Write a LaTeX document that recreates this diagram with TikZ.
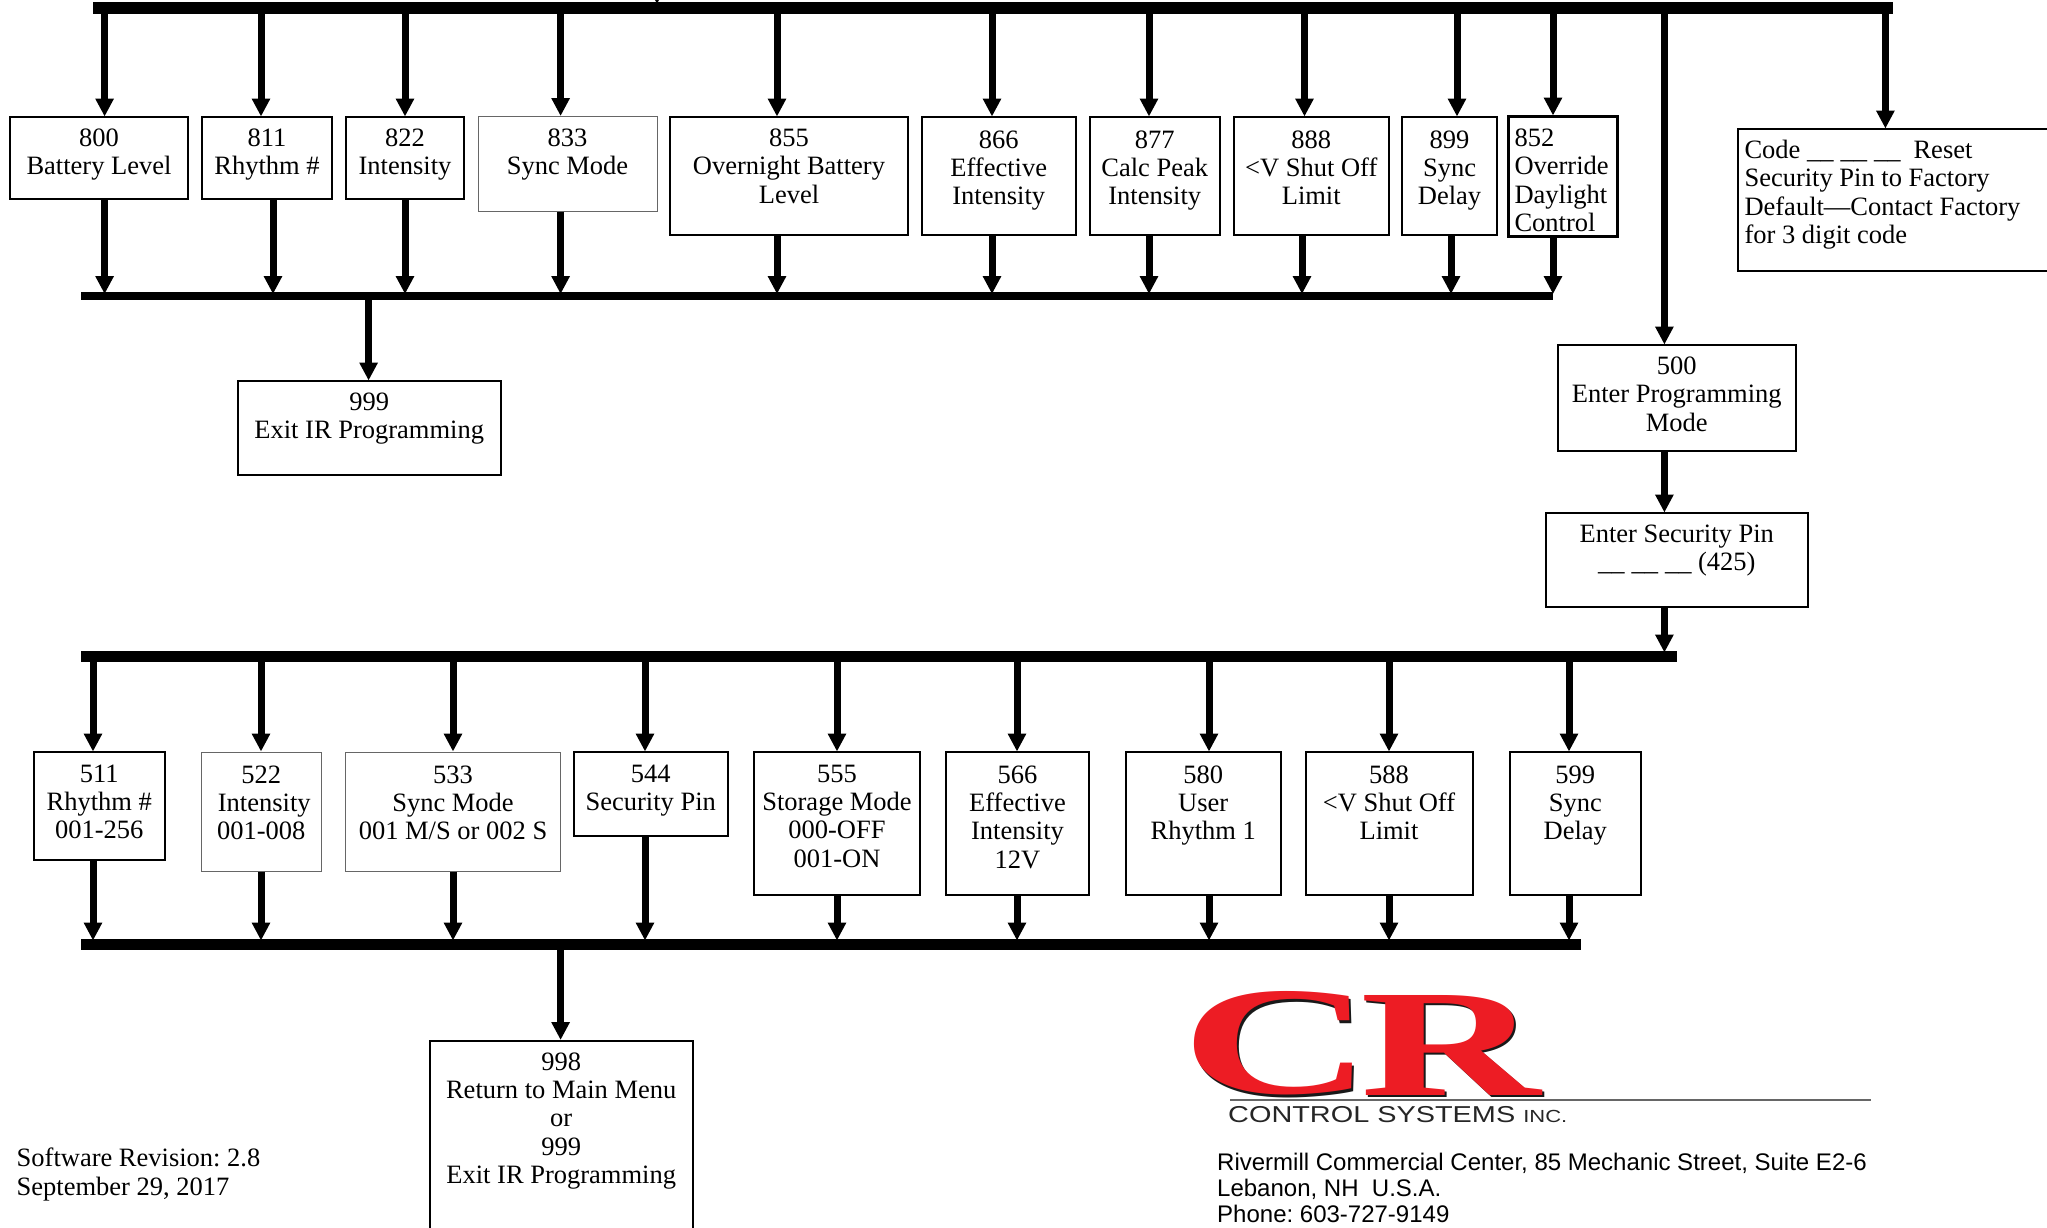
\documentclass[tikz,border=0pt]{standalone}
\usepackage{fontspec}
\usepackage{graphicx}
\setmainfont{Liberation Serif}
\newfontfamily\arialf{Liberation Sans}
\usetikzlibrary{arrows.meta,calc}
\definecolor{crred}{HTML}{ED1C24}
\frenchspacing
\tikzset{
  x=1pt,y=-1pt,
  flowbox/.style={draw=black,line width=2pt,inner sep=0pt,outer sep=0pt,fill=white},
  thinbox/.style={flowbox,draw=black!60,line width=1pt},
  heavybox/.style={flowbox,line width=3pt},
  bus/.style={fill=black,inner sep=0pt,outer sep=0pt},
  arr/.style={line width=7pt,-{Triangle[length=18pt,width=17.5pt]},shorten >=0.5pt},
  arrbus/.style={line width=7pt,-{Triangle[length=18pt,width=17.5pt]},shorten >=-2pt},
}
\newcommand{\txtsize}{\fontsize{26.5}{28.4}\selectfont}
\newcommand{\fbase}{29.5pt}
% \flowb[style]{name}{x1}{y1}{x2}{y2}{text}
\newcommand{\flowb}[7][flowbox]{%
  \pgfmathsetmacro{\bw}{#5-#3}\pgfmathsetmacro{\bh}{#6-#4}%
  \pgfmathsetmacro{\bx}{(#3+#5)/2}\pgfmathsetmacro{\by}{(#4+#6)/2}%
  \node[#1,minimum width=\bw pt,minimum height=\bh pt] (#2) at (\bx,\by)
    {\parbox[c][\bh pt][t]{\bw pt}{\txtsize\centering\rule{0pt}{\fbase}#7}};%
}
\newcommand{\busb}[5]{%
  \pgfmathsetmacro{\bw}{#4-#2}\pgfmathsetmacro{\bh}{#5-#3}%
  \pgfmathsetmacro{\bx}{(#2+#4)/2}\pgfmathsetmacro{\by}{(#3+#5)/2}%
  \node[bus,minimum width=\bw pt,minimum height=\bh pt] (#1) at (\bx,\by) {};%
}
\newcommand{\dashgap}{\_\_\hspace{7pt}\_\_\hspace{7pt}\_\_}
\begin{document}
\begin{tikzpicture}
\useasboundingbox (0,0) rectangle (2047,1227);
\fill[white] (0,0) rectangle (2047,1227);
% buses
\busb{busa}{93}{2}{1893}{14}
\busb{busb}{81}{292}{1553}{300}
\busb{busc}{81}{650.5}{1677}{661.5}
\busb{busd}{81}{938.5}{1581}{950}
% row 1
\flowb{b800}{10}{117}{188}{199}{800\\Battery Level}
\flowb{b811}{202}{117}{332}{199}{811\\Rhythm \#}
\flowb{b822}{346}{117}{464}{199}{822\\Intensity}
\flowb[thinbox]{b833}{478}{116.5}{657}{211.5}{833\\Sync Mode}
\flowb{b855}{670}{117}{908}{235}{855\\Overnight Battery\\Level}
\renewcommand{\fbase}{31pt}
\flowb{b866}{922}{117}{1075.5}{235}{866\\Effective\\Intensity}
\flowb{b877}{1089.5}{117}{1220}{235}{877\\Calc Peak\\Intensity}
\flowb{b888}{1234}{117}{1388.5}{235}{888\\<V Shut Off\\Limit}
\flowb{b899}{1402}{117}{1497}{235}{899\\Sync\\Delay}
\renewcommand{\fbase}{30.5pt}
\flowb[heavybox]{b852}{1508.5}{116}{1617.5}{236}{\raggedright\leftskip=6pt\relax 852\\Override\\Daylight\\Control}
\renewcommand{\fbase}{29.5pt}
\flowb{bcode}{1738}{129}{2080}{271}{\raggedright\leftskip=6.5pt\relax Code \dashgap\hspace{13pt}Reset\\Security Pin to Factory\\Default—Contact Factory\\for 3 digit code}
\flowb{b999a}{238}{381}{500.5}{475}{999\\Exit IR Programming}
\flowb{b500}{1557.5}{345}{1796}{451}{500\\Enter Programming\\Mode}
\flowb{bpin}{1545.5}{513}{1808}{607}{Enter Security Pin\\\dashgap\ (425)}
% row 2
\renewcommand{\fbase}{30pt}
\flowb{b511}{34}{752}{164.5}{860}{511\\Rhythm \#\\001-256}
\renewcommand{\fbase}{31pt}
\flowb[thinbox]{b522}{201.5}{752}{321}{871.5}{522\\\hspace{6pt}Intensity\\001-008}
\flowb[thinbox]{b533}{345.5}{752}{560.5}{871.5}{533\\Sync Mode\\001 M/S or 002 S}
\renewcommand{\fbase}{30pt}
\flowb{b544}{573.5}{752}{728}{835.5}{544\\Security Pin}
\flowb{b555}{754}{752}{920}{895}{555\\Storage Mode\\000-OFF\\001-ON}
\renewcommand{\fbase}{31pt}
\flowb{b566}{946}{752}{1089}{895}{566\\Effective\\Intensity\\12V}
\flowb{b580}{1125.5}{752}{1281}{895}{580\\User\\Rhythm 1}
\flowb{b588}{1305.5}{752}{1472.5}{895}{588\\<V Shut Off\\Limit}
\flowb{b599}{1509.5}{752}{1641}{895}{599\\Sync\\Delay}
\renewcommand{\fbase}{29.5pt}
\flowb{b998}{430}{1040.5}{692.5}{1260}{998\\Return to Main Menu\\or\\999\\Exit IR Programming}
% connectors: top bus to boxes
\foreach \n/\x in {b800/104.6,b811/261,b822/405,b833/560.6,b855/777,b866/992,b877/1149,b888/1304.5,b899/1457,b852/1553,b500/1664.4,bcode/1885.4}{
  \coordinate (c) at (\x,0);
  \draw[arr] (c |- busa.south) -- (c |- \n.north);
}
% boxes to second bus
\foreach \n/\x in {b800/104.6,b811/273,b822/405,b833/560.6,b855/777,b866/992,b877/1149,b888/1302,b899/1451,b852/1553}{
  \coordinate (c) at (\x,0);
  \draw[arrbus] (c |- \n.south) -- (c |- busb.north);
}
\coordinate (cx) at (368.6,0);
\draw[arr] (cx |- busb.south) -- (cx |- b999a.north);
\coordinate (cy) at (1664.4,0);
\draw[arr] (cy |- b500.south) -- (cy |- bpin.north);
\draw[arrbus] (cy |- bpin.south) -- (cy |- busc.north);
% third bus to boxes
\foreach \n/\x in {b511/93,b522/261,b533/453,b544/645,b555/837,b566/1017,b580/1209,b588/1389,b599/1569}{
  \coordinate (c) at (\x,0);
  \draw[arr] (c |- busc.south) -- (c |- \n.north);
}
\foreach \n/\x in {b511/93,b522/261,b533/453,b544/645,b555/837,b566/1017,b580/1209,b588/1389,b599/1569}{
  \coordinate (c) at (\x,0);
  \draw[arrbus] (c |- \n.south) -- (c |- busd.north);
}
\coordinate (cz) at (560.6,0);
\draw[arr] (cz |- busd.south) -- (cz |- b998.north);
% incoming at the top edge
\coordinate (topin) at (657,-30);
\draw[arrbus] (topin) -- (topin |- busa.north);
% revision note
\node[anchor=north west,inner sep=0pt,align=left,font=\txtsize] (rev) at (16.5,1148) {Software Revision: 2.8\\September 29, 2017};
% logo
\node[anchor=base west,inner sep=0pt,text=black!90] (cshad) at (1183,1096) {\resizebox{191pt}{102pt}{\bfseries C}};
\node[anchor=base west,inner sep=0pt,text=crred] (cc) at (1181,1093) {\resizebox{191pt}{102pt}{\bfseries C}};
\node[anchor=base west,inner sep=0pt,text=black!90] (rshad) at (1362,1097.5) {\resizebox{180pt}{100pt}{\bfseries R}};
\node[anchor=base west,inner sep=0pt,text=crred] (rr) at (1360,1095) {\resizebox{180pt}{100pt}{\bfseries R}};
\coordinate (la) at (1230,1100);
\coordinate (lb) at (1871,1100);
\draw[black!60,line width=1.6pt] (la) -- (lb);
\node[anchor=base west,inner sep=0pt,text=black!85,font=\arialf\fontsize{23}{26}\selectfont] (cs) at (1228,1122.7) {\resizebox{339pt}{\height}{CONTROL SYSTEMS {\fontsize{17.5}{20}\selectfont INC.}}};
\node[anchor=north west,inner sep=0pt,align=left,font=\arialf\fontsize{24}{26.3}\selectfont] (addr) at (1217,1152.5) {Rivermill Commercial Center, 85 Mechanic Street, Suite E2-6\\Lebanon, NH\ \ U.S.A.\\Phone: 603-727-9149};
\end{tikzpicture}
\end{document}
